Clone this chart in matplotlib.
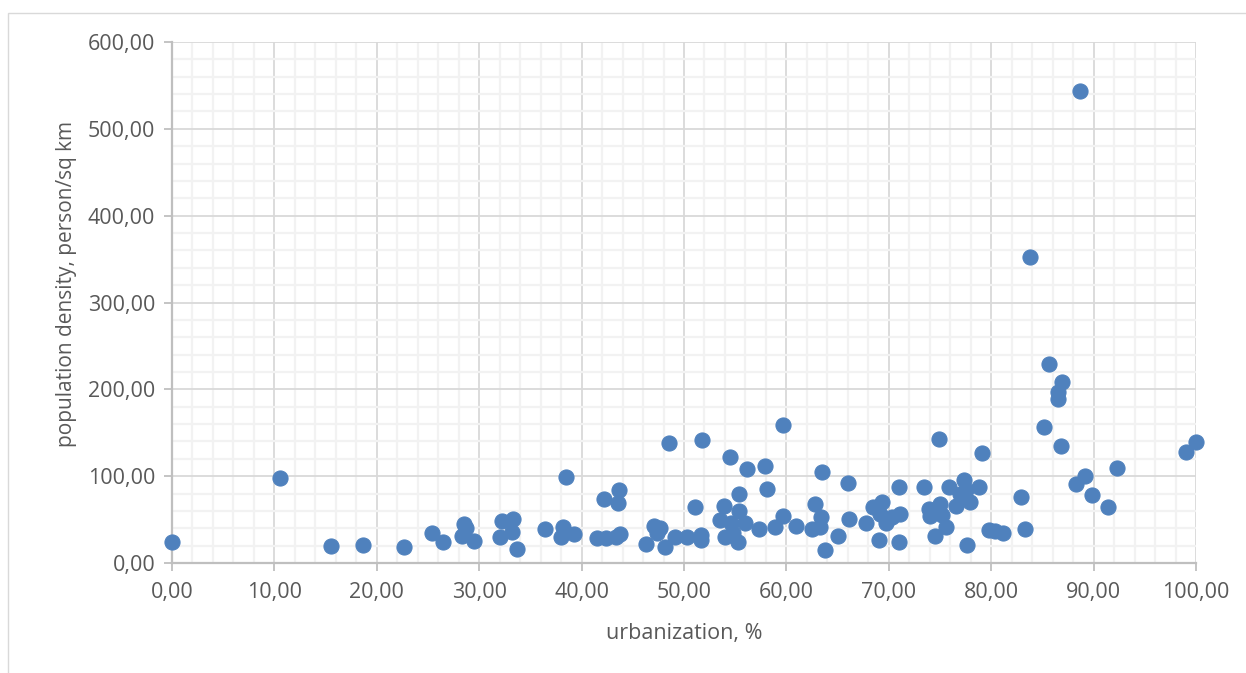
import matplotlib
matplotlib.use("Agg")
import matplotlib.pyplot as plt
from matplotlib.ticker import MultipleLocator, FuncFormatter
from matplotlib.patches import Rectangle

urbanization = [
    0.0, 10.5, 15.5, 18.7, 22.7, 25.4, 26.5, 28.3, 28.5, 28.7,
    29.5, 32.2, 33.3, 32.0, 33.2, 33.7, 36.4, 38.5, 38.2, 38.0,
    39.3, 41.5, 42.4, 43.4, 43.75, 42.2, 43.65, 43.6, 46.3, 47.1,
    47.7, 47.4, 48.1, 48.5, 49.1, 50.3, 51.7, 51.7, 51.8, 51.1,
    54.5, 53.9, 55.4, 53.5, 54.6, 54.0, 55.4, 55.3, 54.8, 56.0,
    56.2, 57.9, 58.1, 57.3, 58.9, 59.7, 59.7, 60.9, 62.8, 63.5,
    63.4, 62.5, 63.3, 63.8, 65.0, 66.0, 66.1, 67.8, 68.5, 69.3,
    69.0, 69.7, 69.1, 70.3, 71.1, 71.0, 71.0, 73.4, 73.9, 74.0,
    75.0, 75.2, 74.5, 75.6, 74.9, 75.9, 77.3, 78.8, 77.0, 77.9,
    76.6, 77.6, 77.5, 79.1, 79.8, 80.4, 81.2, 83.3, 82.9, 83.8,
    85.6, 86.9, 86.5, 86.5, 85.2, 86.8, 88.7, 88.3, 89.2, 89.8,
    91.4, 92.3, 99.0, 100.0,
]
density = [
    24, 98, 20, 21, 19, 34, 24, 31, 45, 40,
    25.5, 48, 51, 29.5, 35.5, 16, 39, 99.5, 42, 29.5,
    33, 29, 28.5, 30.5, 33, 74, 84, 69, 21.5, 43,
    40, 34, 19, 138, 30, 29.5, 32.5, 27, 142, 64,
    122, 66, 80, 50, 46, 29.5, 59.5, 24.5, 34, 45.5,
    108, 112, 85, 39, 42, 54, 159, 43, 67.5, 104.5,
    53, 39, 42, 15, 31, 92, 51, 46.5, 64, 70,
    26, 45.5, 57, 53, 57, 88, 24, 88, 62, 54,
    68.5, 55, 31.5, 41, 142.5, 87, 95.5, 88, 80, 70,
    66, 20.5, 84, 127, 38.5, 36.5, 35, 39, 76, 352,
    229, 209, 197, 189, 157, 135, 544, 91, 100, 78,
    64, 109, 128, 139,
]

x_label = "urbanization, %"
y_label = "population density, person/sq km"

FONT = "Open Sans"
TXT = "#595959"
FS = 15.5

fig = plt.figure(figsize=(12.46, 6.73), dpi=100)
fig.patch.set_facecolor("white")

# chart frame
fig.patches.append(Rectangle((8 / 1246, -0.01), 1.05, 1 - 13 / 673 + 0.01,
                             transform=fig.transFigure, fill=False,
                             edgecolor="#D9D9D9", linewidth=1.0))

ax = fig.add_axes([172 / 1246, 1 - 563 / 673, (1196 - 172) / 1246, (563 - 42) / 673])
ax.set_xlim(0, 100)
ax.set_ylim(0, 600)

ax.xaxis.set_major_locator(MultipleLocator(10))
ax.xaxis.set_minor_locator(MultipleLocator(2))
ax.yaxis.set_major_locator(MultipleLocator(100))
ax.yaxis.set_minor_locator(MultipleLocator(20))

fmt = FuncFormatter(lambda v, p: f"{v:.2f}".replace(".", ","))
ax.xaxis.set_major_formatter(fmt)
ax.yaxis.set_major_formatter(fmt)

ax.grid(which="minor", color="#F2F2F2", linewidth=1.6, zorder=0)
ax.grid(which="major", color="#D9D9D9", linewidth=1.3, zorder=0)
ax.set_axisbelow(True)

for s in ["top", "right"]:
    ax.spines[s].set_visible(False)
for s in ["left", "bottom"]:
    ax.spines[s].set_color("#BFBFBF")
    ax.spines[s].set_linewidth(1.6)

ax.tick_params(which="major", length=6, width=1.3, color="#BFBFBF",
               labelsize=FS, labelcolor=TXT)
ax.tick_params(axis="x", which="major", pad=8)
ax.tick_params(axis="y", which="major", pad=6)
ax.tick_params(which="minor", length=0)
for lab in ax.get_xticklabels() + ax.get_yticklabels():
    lab.set_fontfamily(FONT)

ax.scatter(urbanization, density, s=118, color="#4F81BD",
           edgecolors="#4F81BD", linewidths=0.8, zorder=3, clip_on=False)

ax.set_xlabel(x_label, fontsize=FS, color=TXT, family=FONT, labelpad=14)
ax.set_ylabel(y_label, fontsize=15, color=TXT, family=FONT)
ax.yaxis.set_label_coords((77 - 172) / 1024, (563 - 284) / 521)

fig.savefig("out.png", dpi=100, facecolor="white")
